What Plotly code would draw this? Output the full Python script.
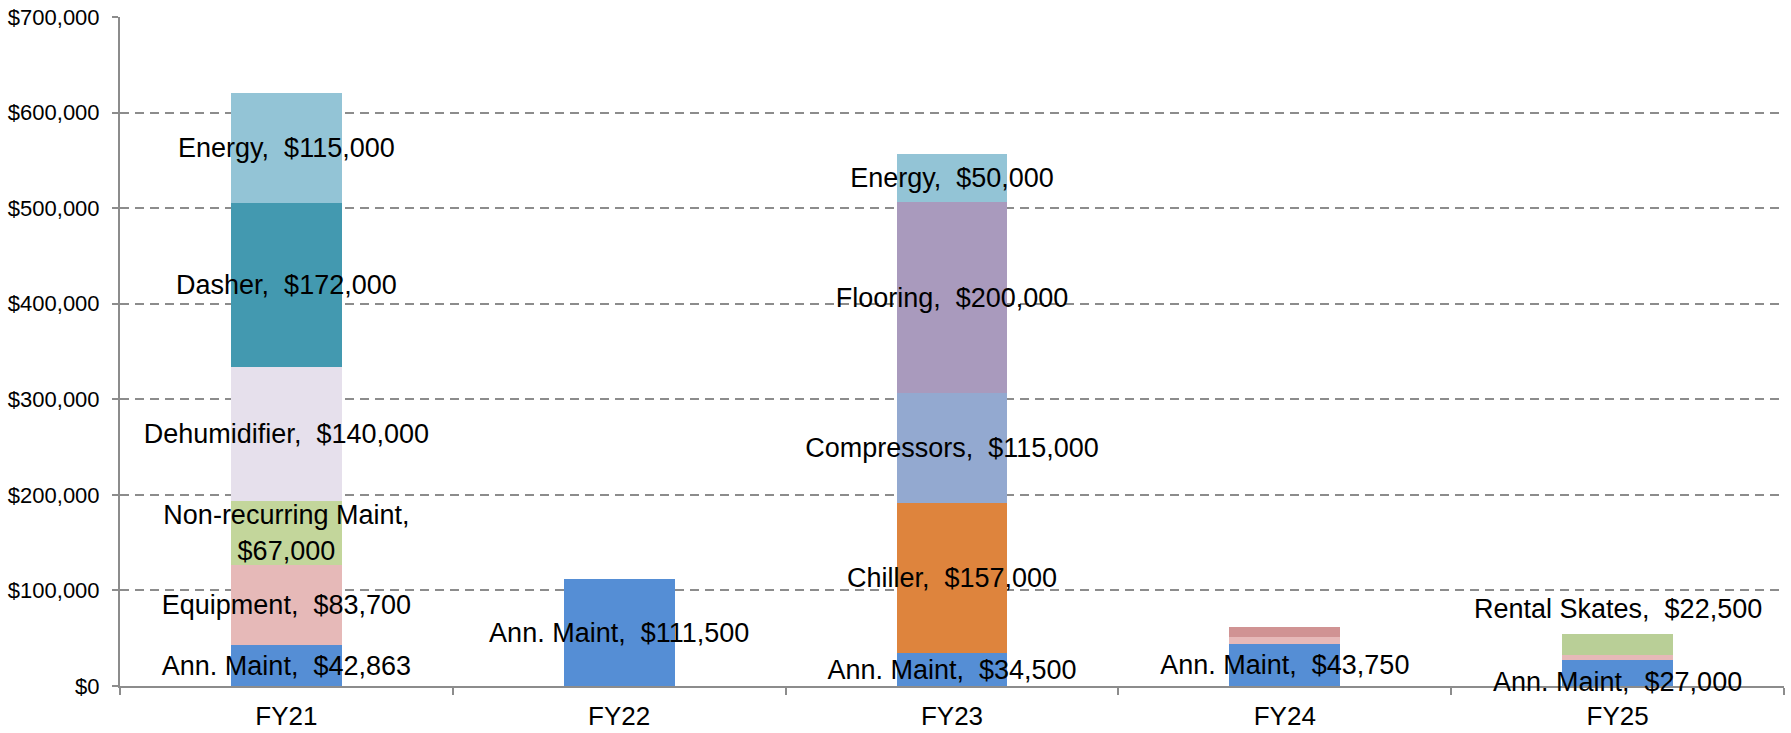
import plotly.graph_objects as go

categories = ["FY21", "FY22", "FY23", "FY24", "FY25"]

# series (stack order bottom -> top); None = absent
ann_maint      = [42863, 111500, 34500, 43750, 27000]
equipment      = [83700, None, None, 7500, 5000]
nonrecurring   = [67000, None, None, None, None]
dehumidifier   = [140000, None, None, None, None]
dasher         = [172000, None, None, None, None]
chiller        = [None, None, 157000, None, None]
compressors    = [None, None, 115000, None, None]
flooring       = [None, None, 200000, None, None]
energy         = [115000, None, 50000, None, None]
other          = [None, None, None, 10000, None]
rental_skates  = [None, None, None, None, 22500]

# which points show a data label inside the bar
ann_maint_labels = [True, True, True, True, False]
equipment_labels = [True, False, False, False, False]

series = [
    ("Ann. Maint", ann_maint, "#558ED5", ann_maint_labels),
    ("Equipment", equipment, "#E6B9B8", equipment_labels),
    ("Non-recurring Maint", nonrecurring, "#C3D69B", None),
    ("Dehumidifier", dehumidifier, "#E6E0EC", None),
    ("Dasher", dasher, "#4399B0", None),
    ("Chiller", chiller, "#DE843D", None),
    ("Compressors", compressors, "#93A9D0", None),
    ("Flooring", flooring, "#A99ABD", None),
    ("Energy", energy, "#93C4D6", None),
    ("Other", other, "#D09393", [False] * 5),
    ("Rental Skates", rental_skates, "#B9CF97", [False] * 5),
]

FONT = "Liberation Sans, Arial, sans-serif"
LABEL_SIZE = 27
fig = go.Figure()
for name, vals, color, show in series:
    texts = []
    for i, v in enumerate(vals):
        if v is None or (show is not None and not show[i]):
            texts.append("")
        elif name == "Non-recurring Maint":
            texts.append(f"{name},<br>${v:,}")
        else:
            texts.append(f"{name},\u00a0 ${v:,}")
    fig.add_trace(go.Bar(
        x=categories, y=vals, name=name,
        marker=dict(color=color, line=dict(width=0)),
        text=texts, textposition="inside", textangle=0,
        insidetextanchor="middle", constraintext="none",
        insidetextfont=dict(color="#000000", size=LABEL_SIZE, family=FONT),
        cliponaxis=False,
        hoverinfo="x+y+name",
    ))

lab_font = dict(color="#000000", size=LABEL_SIZE, family=FONT)
# Rental Skates label sits above the FY25 stack
fy25_top = sum(v[4] for _, v, _, _ in series if v[4] is not None)
fig.add_annotation(
    x="FY25", y=fy25_top, yanchor="bottom", yshift=8, showarrow=False,
    text=f"Rental Skates,\u00a0 ${rental_skates[4]:,}", font=lab_font,
)
# FY25 Ann. Maint label, nudged slightly down
fig.add_annotation(
    x="FY25", y=ann_maint[4] / 2, yanchor="middle", yshift=-9, showarrow=False,
    text=f"Ann. Maint,\u00a0 ${ann_maint[4]:,}", font=lab_font,
)

fig.update_layout(
    barmode="stack",
    bargap=0.667,
    width=1791, height=733,
    margin=dict(l=120, r=7, t=17, b=47),
    plot_bgcolor="white", paper_bgcolor="white",
    showlegend=False,
    font=dict(family=FONT, color="#000000"),
    xaxis=dict(
        showline=True, linecolor="#8C8C8C", linewidth=2,
        ticks="outside", tickson="boundaries", ticklen=7, tickcolor="#8C8C8C", tickwidth=2,
        tickfont=dict(size=26, color="#000000", family=FONT),
        ticklabelstandoff=6, automargin=False,
        showgrid=False,
    ),
    yaxis=dict(
        range=[0, 700000], dtick=100000, tickformat="$,.0f",
        showline=True, linecolor="#8C8C8C", linewidth=2,
        ticks="outside", ticklen=6, tickcolor="#8C8C8C", tickwidth=2,
        tickfont=dict(size=22, color="#000000", family=FONT),
        ticklabelstandoff=8, automargin=False,
        showgrid=True, gridcolor="#8C8C8C", griddash="9px,6px", gridwidth=1.5,
        zeroline=False,
    ),
)

fig.write_html("out.html", config={"displayModeBar": False},
               post_script="document.body.style.margin='0';")
